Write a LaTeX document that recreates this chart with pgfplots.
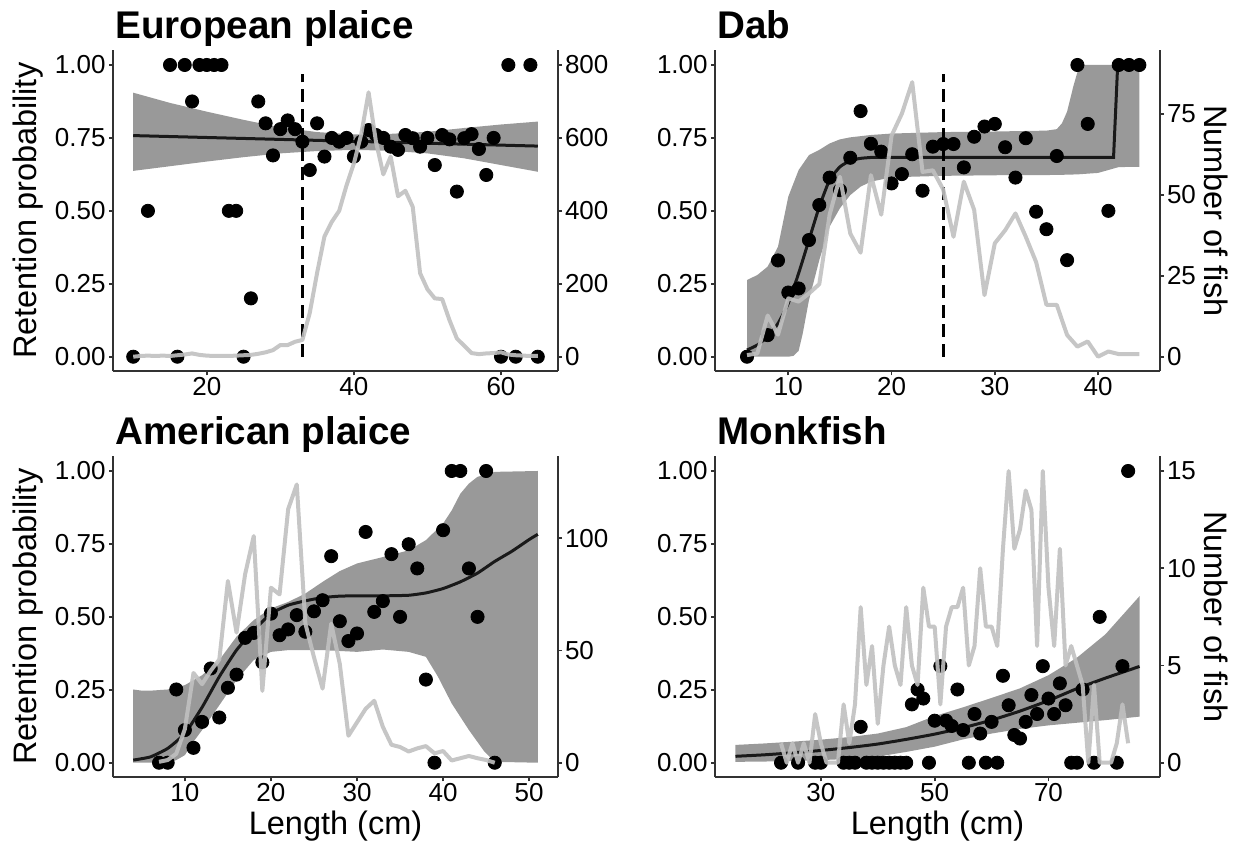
\documentclass[border=0pt]{standalone}
\usepackage{fontspec}
\setmainfont{Liberation Sans}
\usepackage{pgfplots}
\pgfplotsset{compat=1.18}
\definecolor{bandc}{RGB}{82,82,82}
\definecolor{cnt}{RGB}{192,192,192}
\definecolor{axc}{RGB}{50,50,50}
\pgfplotsset{
  common/.style={scale only axis, width=222.5pt, height=160.45pt, enlargelimits=false,
    axis line style={axc, line width=0.9pt}, tick style={axc, line width=0.9pt},
    tick align=outside, major tick length=2pt, minor tick num=0,
    ticklabel style={font=\fontsize{13}{13}\selectfont, inner sep=0pt, black},
    /pgf/number format/assume math mode=true, scaled y ticks=false, anchor=north west},
  prim/.style={common, ymin=-0.05, ymax=1.05, axis x line*=bottom, axis y line*=left,
    ytick={0,0.25,0.5,0.75,1},
    yticklabel style={/pgf/number format/fixed, /pgf/number format/fixed zerofill, /pgf/number format/precision=2, xshift=-1.5pt},
    xticklabel style={yshift=-0.6pt}},
  sec/.style={common, axis x line=none, axis y line*=right, yticklabel style={xshift=1.3pt}},
  pts/.style={only marks, mark=*, mark size=3.3pt, black},
  band/.style={draw=none, fill=bandc, fill opacity=0.59},
  fit/.style={black!90, line width=1.5pt, no marks, smooth, tension=0.3},
  cntl/.style={cnt, line width=2pt, no marks, opacity=0.9, line join=round},
  dsh/.style={black, line width=1.6pt, dash pattern=on 6.5pt off 3.3pt, no marks}
}
\begin{document}
\begin{tikzpicture}
\useasboundingbox (0,0) rectangle (620.5pt,-422.5pt);
% ---------------- European plaice
\begin{axis}[prim, at={(56.5pt,-25.2pt)}, xmin=7.25, xmax=67.75, xtick={20,40,60}]
\addplot[pts] coordinates {(10,0)(12,0.5)(15,1)(16,0)(17,1)(18,0.875)(19,1)(20,1)(21,1)(22,1)(23,0.5)(24,0.5)(25,0)(26,0.2)(27,0.875)(28,0.80)(29,0.69)(30,0.78)(31,0.81)(32,0.78)(33,0.737)(34,0.64)(35,0.80)(36,0.686)(37,0.75)(38,0.737)(39,0.75)(40,0.686)(41,0.737)(42,0.777)(43,0.76)(44,0.75)(45,0.72)(46,0.709)(47,0.76)(48,0.749)(49,0.72)(50,0.75)(51,0.657)(52,0.76)(53,0.745)(54,0.566)(55,0.749)(56,0.763)(57,0.712)(58,0.623)(59,0.75)(60,0)(61,1)(62,0)(64,1)(65,0)};
\addplot[band] coordinates {(10,0.905)(15,0.87)(20,0.84)(25,0.812)(30,0.786)(35,0.77)(40,0.762)(45,0.764)(50,0.771)(55,0.784)(60,0.796)(65,0.806)(65,0.634)(60,0.657)(55,0.68)(50,0.697)(45,0.706)(40,0.709)(35,0.705)(30,0.697)(25,0.684)(20,0.669)(15,0.653)(10,0.637)} -- cycle;
\addplot[fit] coordinates {(10,0.758)(37.5,0.740)(65,0.722)};
\addplot[dsh] coordinates {(33,0)(33,0.97)};
\end{axis}
\begin{axis}[sec, at={(56.5pt,-25.2pt)}, xmin=7.25, xmax=67.75, ymin=-40, ymax=840, ytick={0,200,400,600,800}]
\addplot[cntl] coordinates {(10,0)(11,2)(12,3)(13,2)(14,3)(15,2)(16,4)(17,6)(18,9)(19,5)(20,3)(21,2)(22,2)(23,2)(24,3)(25,4)(26,5)(27,8)(28,12)(29,18)(30,32)(31,32)(32,41)(33,46)(34,120)(35,230)(36,330)(37,370)(38,400)(39,470)(40,530)(41,610)(42,725)(43,590)(44,500)(45,549)(46,440)(47,455)(48,411)(49,229)(50,185)(51,160)(52,158)(53,100)(54,50)(55,30)(56,10)(57,7)(58,9)(59,10)(60,12)(61,6)(62,4)(63,3)(64,2)(65,2)};
\end{axis}
% ---------------- Dab
\begin{axis}[prim, at={(357.5pt,-25.2pt)}, xmin=2.9, xmax=46, xtick={10,20,30,40}]
\addplot[pts] coordinates {(6,0)(8,0.074)(9,0.33)(10,0.22)(11,0.234)(12,0.40)(13,0.52)(14,0.614)(15,0.571)(16,0.682)(17,0.842)(18,0.73)(19,0.703)(20,0.594)(21,0.626)(22,0.694)(23,0.569)(24,0.72)(25,0.729)(26,0.729)(27,0.649)(28,0.754)(29,0.789)(30,0.798)(31,0.718)(32,0.614)(33,0.749)(34,0.497)(35,0.437)(36,0.688)(37,0.331)(38,1)(39,0.798)(41,0.5)(42,1)(43,1)(44,1)};
\addplot[band] coordinates {(6,0.263)(7,0.28)(8,0.309)(9,0.377)(10,0.549)(11,0.64)(12,0.691)(13,0.709)(14,0.731)(15,0.745)(16,0.752)(18,0.76)(20,0.765)(25,0.77)(30,0.772)(35,0.775)(36,0.78)(36.5,0.80)(37,0.84)(37.6,0.926)(38.2,1.0)(44,1.0)(44,0.651)(42,0.65)(41,0.64)(40,0.63)(38,0.625)(36,0.623)(30,0.622)(25,0.62)(20,0.615)(18,0.60)(17,0.583)(16,0.554)(15,0.509)(14,0.446)(13,0.331)(12,0.194)(11.4,0.08)(11,0.02)(10.5,0.003)(10,0)(6,0)} -- cycle;
\addplot[fit] coordinates {(6,0.023)(7,0.04)(8,0.069)(9,0.114)(10,0.183)(11,0.286)(12,0.40)(13,0.514)(14,0.606)(15,0.651)(16,0.672)(17,0.68)(18,0.683)};
\addplot[black!90, line width=1.5pt, no marks] coordinates {(18,0.683)(41.5,0.683)(41.9,1.0)(44,1.0)};
\addplot[dsh] coordinates {(25,0)(25,0.97)};
\end{axis}
\begin{axis}[sec, at={(357.5pt,-25.2pt)}, xmin=2.9, xmax=46, ymin=-4.5, ymax=94.5, ytick={0,25,50,75}]
\addplot[cntl] coordinates {(6,0.5)(7,1)(8,12.7)(9,6.8)(10,18)(11,17)(12,19.5)(13,22.4)(14,43.8)(15,55.5)(16,38)(17,32.1)(18,56)(19,43.8)(20,68.2)(21,75)(22,84.7)(23,57)(24,57.5)(25,51.6)(26,37)(27,54)(28,45.3)(29,19)(30,35)(31,39)(32,44.2)(33,37)(34,29.2)(35,16)(36,16)(37,6.7)(38,3.1)(39,4.7)(40,0)(41,1.6)(42,0.8)(43,0.8)(44,0.8)};
\end{axis}
% ---------------- American plaice
\begin{axis}[prim, at={(56.5pt,-228.2pt)}, xmin=1.65, xmax=53.35, xtick={10,20,30,40,50}]
\addplot[pts] coordinates {(7,0)(8,0)(9,0.251)(10,0.112)(11,0.051)(12,0.14)(13,0.323)(14,0.155)(15,0.257)(16,0.302)(17,0.428)(18,0.445)(19,0.344)(20,0.511)(21,0.437)(22,0.457)(23,0.506)(24,0.449)(25,0.519)(26,0.557)(27,0.708)(28,0.485)(29,0.417)(30,0.443)(31,0.791)(32,0.517)(33,0.554)(34,0.715)(35,0.5)(36,0.749)(37,0.666)(38,0.285)(39,0)(40,0.797)(41,1)(42,1)(43,0.666)(44,0.5)(45,1)(46,0)};
\addplot[band] coordinates {(4,0.251)(5,0.247)(6,0.247)(8,0.251)(10,0.266)(11,0.283)(12,0.30)(14,0.352)(16,0.432)(18,0.489)(20,0.529)(22,0.551)(24,0.58)(26,0.62)(28,0.657)(30,0.683)(33,0.705)(36,0.728)(38,0.763)(40,0.82)(41,0.865)(42,0.922)(43,0.957)(44,0.98)(46,0.997)(51,1.0)(51,0)(46,0.003)(44.8,0.038)(43,0.112)(41,0.203)(39.4,0.295)(38,0.363)(36,0.38)(33,0.388)(30,0.38)(26,0.386)(22,0.386)(20,0.38)(18,0.352)(16,0.283)(14,0.197)(12,0.112)(11,0.072)(10,0.026)(9,0.009)(8,0)(4,0)} -- cycle;
\addplot[fit] coordinates {(4,0.009)(6,0.02)(8,0.049)(10,0.10)(12,0.19)(14,0.295)(16,0.386)(18,0.454)(20,0.511)(22,0.54)(24,0.555)(26,0.566)(28,0.571)(30,0.572)(33,0.572)(36,0.574)(38,0.582)(40,0.597)(42,0.62)(44,0.65)(46,0.69)(48,0.725)(50,0.765)(51,0.783)};
\end{axis}
\begin{axis}[sec, at={(56.5pt,-228.2pt)}, xmin=1.65, xmax=53.35, ymin=-6.5, ymax=136.5, ytick={0,50,100}]
\addplot[cntl] coordinates {(7,0.4)(8,1.2)(9,4)(10,15)(11,40)(12,35)(13,41)(14,46)(15,81)(16,58)(17,84)(18,101)(19,32)(20,78)(21,75)(22,113)(23,124)(24,62)(25,47)(26,33)(27,62)(28,44)(29,12)(30,18)(31,24)(32,27.6)(33,16)(34,8)(35,7)(36,5)(37,6.4)(38,7.4)(39,4.2)(40,5.2)(41,1)(42,2)(43,3)(44,2)(45,1.2)(46,0)};
\end{axis}
% ---------------- Monkfish
\begin{axis}[prim, at={(357.5pt,-228.2pt)}, xmin=11.4, xmax=89.6, xtick={30,50,70}]
\addplot[pts] coordinates {(23,0)(26,0)(29,0)(30,0)(34,0)(35,0)(36,0)(37,0.123)(38,0)(39,0)(40,0)(41,0)(42,0)(43,0)(44,0)(45,0)(46,0.2)(47,0.251)(48,0.22)(49,0)(50,0.144)(51,0.331)(52,0.144)(53,0.126)(54,0.251)(55,0.112)(56,0)(57,0.167)(58,0.1)(59,0)(60,0.14)(61,0)(62,0.298)(63,0.197)(64,0.095)(65,0.083)(66,0.14)(67,0.232)(68,0.167)(69,0.331)(70,0.22)(71,0.167)(72,0.272)(73,0.197)(74,0)(75,0)(76,0.251)(78,0)(79,0.5)(82,0)(83,0.331)(84,1)};
\addplot[band] coordinates {(15,0.061)(20,0.066)(25,0.072)(30,0.079)(35,0.088)(40,0.10)(45,0.122)(50,0.16)(55,0.19)(60,0.222)(65,0.255)(70,0.30)(75,0.36)(80,0.44)(86,0.571)(86,0.158)(80,0.146)(75,0.137)(70,0.128)(65,0.116)(60,0.10)(55,0.08)(50,0.055)(45,0.037)(40,0.021)(35,0.013)(30,0.009)(25,0.006)(20,0.004)(15,0.003)} -- cycle;
\addplot[fit] coordinates {(15,0.022)(20,0.027)(25,0.034)(30,0.042)(35,0.052)(40,0.064)(45,0.08)(50,0.098)(55,0.12)(60,0.146)(65,0.177)(70,0.213)(75,0.254)(80,0.29)(86,0.33)};
\end{axis}
\begin{axis}[sec, at={(357.5pt,-228.2pt)}, xmin=11.4, xmax=89.6, ymin=-0.75, ymax=15.75, ytick={0,5,10,15}]
\addplot[cntl] coordinates {(23,1)(24,0)(25,1)(26,0)(27,1)(28,0)(29,2.5)(30,1)(31,0)(32,0)(33,0)(34,3)(35,1)(36,3)(37,8)(38,4)(39,6)(40,2)(41,5)(42,7)(43,5)(44,4)(45,8)(46,5)(47,4)(48,9)(49,7)(50,7)(51,3)(52,7)(53,8)(54,8)(55,9)(56,5)(57,6)(58,10)(59,7)(60,7)(61,6)(62,11)(63,15)(64,11)(65,12)(66,14)(67,13)(68,6)(69,15)(70,9)(71,6)(72,11)(73,5)(74,6)(75,5)(76,4)(77,0)(78,4)(79,0)(80,0)(81,0)(82,1)(83,3)(84,1)};
\end{axis}
% ---------------- titles and labels
\begin{scope}[every node/.style={inner sep=0pt}]
\node[anchor=base west, font=\fontsize{19.3}{19.3}\selectfont\bfseries] at (57.5pt,-19.5pt) {European plaice};
\node[anchor=base west, font=\fontsize{19.3}{19.3}\selectfont\bfseries] at (358.5pt,-19.5pt) {Dab};
\node[anchor=base west, font=\fontsize{19.3}{19.3}\selectfont\bfseries] at (57.5pt,-222pt) {American plaice};
\node[anchor=base west, font=\fontsize{19.3}{19.3}\selectfont\bfseries] at (358.5pt,-222pt) {Monkfish};
\node[rotate=90, font=\fontsize{16.25}{16.25}\selectfont] at (14pt,-105.4pt) {Retention probability};
\node[rotate=90, font=\fontsize{16.25}{16.25}\selectfont] at (14pt,-308.4pt) {Retention probability};
\node[rotate=-90, font=\fontsize{16.25}{16.25}\selectfont] at (608pt,-105.4pt) {Number of fish};
\node[rotate=-90, font=\fontsize{16.25}{16.25}\selectfont] at (608pt,-308.4pt) {Number of fish};
\node[font=\fontsize{16.25}{16.25}\selectfont] at (167.75pt,-412.8pt) {Length (cm)};
\node[font=\fontsize{16.25}{16.25}\selectfont] at (468.75pt,-412.8pt) {Length (cm)};
\end{scope}
\end{tikzpicture}
\end{document}
